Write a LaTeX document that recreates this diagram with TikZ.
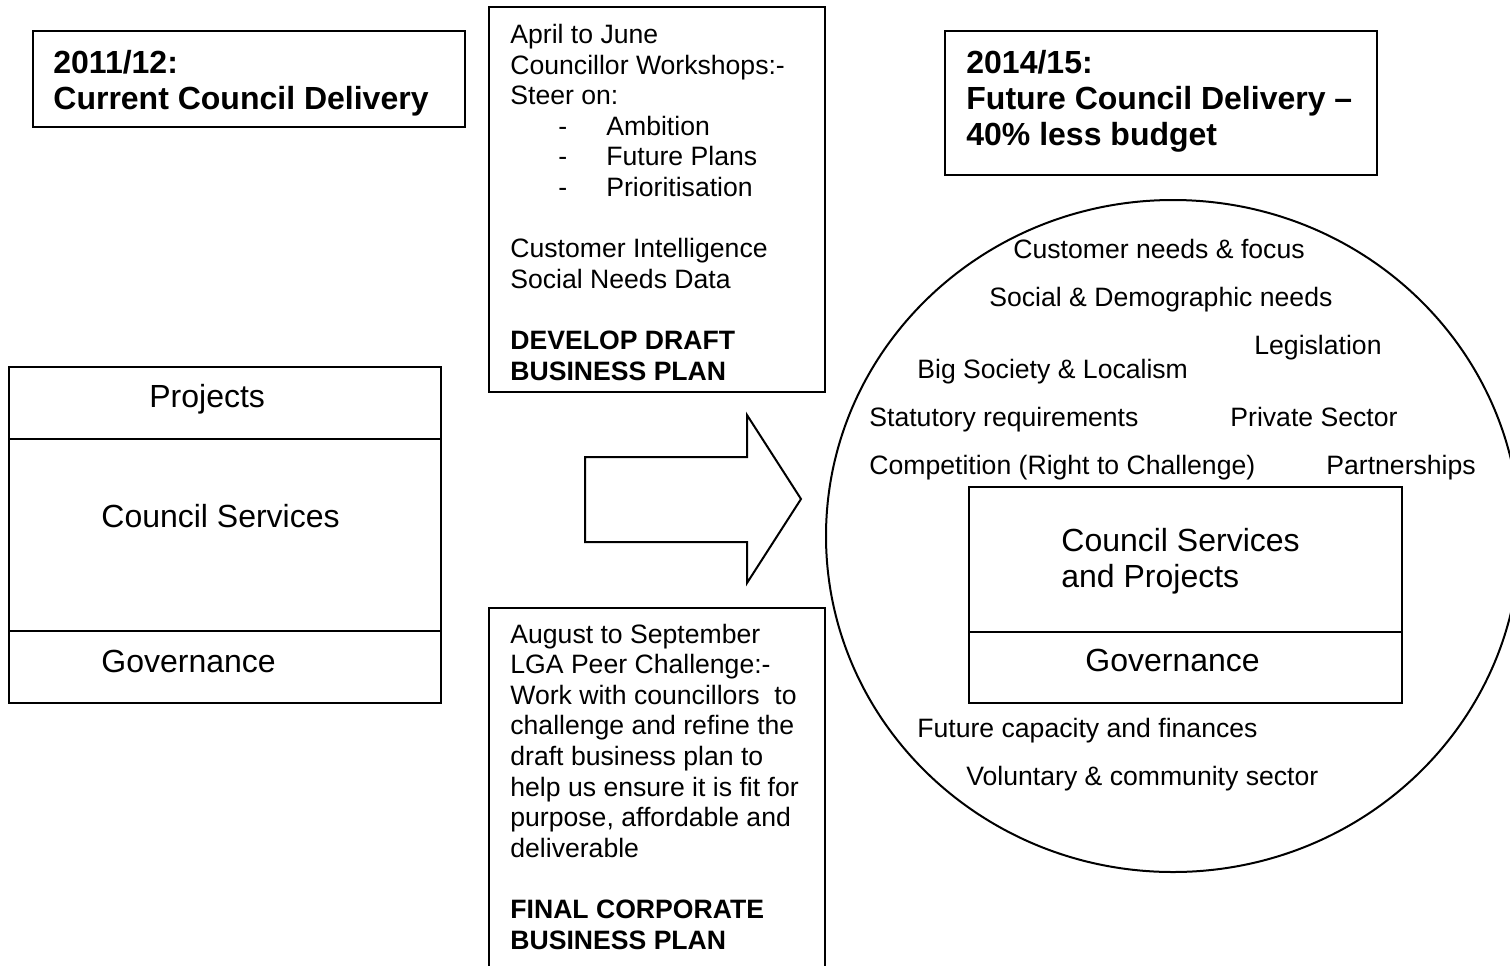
\documentclass[tikz,border=0pt]{standalone}
\usepackage{fontspec}
\setmainfont{Liberation Sans}
\newcommand{\BodySize}{\fontsize{13.3}{15.3}\selectfont}
\newcommand{\HeadSize}{\fontsize{16}{18}\selectfont}
\newcommand{\SteerItem}[1]{\makebox[48pt][l]{\hspace*{24pt}-}#1}

\begin{document}
\begin{tikzpicture}[x=0.5pt,y=-0.5pt,
  frame/.style={draw,line width=1pt},
  body/.style={anchor=base west,inner sep=0pt,align=left,font=\BodySize},
  head/.style={anchor=base west,inner sep=0pt,align=left,font=\HeadSize\bfseries},
  label/.style={anchor=base west,inner sep=0pt,font=\HeadSize},
  cloud/.style={anchor=base west,inner sep=0pt,font=\BodySize}]
\useasboundingbox (0,0) rectangle (1510,965);
\clip (0,0) rectangle (1510,965);

% now and then (multi-line nodes sit on their last baseline)
\draw[frame] (33,31) rectangle (465,127);
\node[head] (nowhead) at (53,109) {2011/12:\\Current Council Delivery};
\draw[frame] (945,31) rectangle (1377,175);
\node[head] (thenhead) at (966,145) {2014/15:\\Future Council Delivery --\\40\% less budget};

% current structure
\draw[frame] (9,367) rectangle (441,703);
\draw[frame] (9,439) -- (441,439);
\draw[frame] (9,631) -- (441,631);
\node[label] (nowproj) at (149,407) {Projects};
\node[label] (nowserv) at (101,527) {Council Services};
\node[label] (nowgov) at (101,672) {Governance};

% the two stages
\draw[frame] (489,7) rectangle (825,392);
\node[body] (workshop) at (510,380) {April to June\\
  Councillor Workshops:-\\
  Steer on:\\
  \SteerItem{Ambition}\\
  \SteerItem{Future Plans}\\
  \SteerItem{Prioritisation}\\[15.3pt]
  Customer Intelligence\\
  Social Needs Data\\[15.3pt]
  \textbf{DEVELOP DRAFT}\\
  \textbf{BUSINESS PLAN}};

\draw[frame] (489,980) -- (489,608) -- (825,608) -- (825,980);
\node[body] (challenge) at (510,949) {August to September\\
  LGA Peer Challenge:-\\
  Work with councillors\ \ to\\
  challenge and refine the\\
  draft business plan to\\
  help us ensure it is fit for\\
  purpose, affordable and\\
  deliverable\\[15.3pt]
  \textbf{FINAL CORPORATE}\\
  \textbf{BUSINESS PLAN}};

% block arrow
\draw[frame,line join=miter] (585,457) -- (747,457) -- (747,415) -- (801,499)
  -- (747,583) -- (747,542) -- (585,542) -- cycle;

% future structure and its drivers
\draw[line width=1pt] (1173,536) ellipse [x radius=347, y radius=336];
\node[cloud] (custneeds) at (1013,258) {Customer needs \& focus};
\node[cloud] (socneeds) at (989,306) {Social \& Demographic needs};
\node[cloud] (legis) at (1254,354) {Legislation};
\node[cloud] (bigsoc) at (917,378) {Big Society \& Localism};
\node[cloud] (statreq) at (869,426) {Statutory requirements};
\node[cloud] (private) at (1230,426) {Private Sector};
\node[cloud] (compet) at (869,474) {Competition (Right to Challenge)};
\node[cloud] (partner) at (1326,474) {Partnerships};
\node[cloud] (capacity) at (917,737) {Future capacity and finances};
\node[cloud] (voluntary) at (966,785) {Voluntary \& community sector};

\draw[frame] (969,487) rectangle (1402,703);
\draw[frame] (969,632) -- (1402,632);
\node[label,align=left] (thenserv) at (1061,587) {Council Services\\and Projects};
\node[label] (thengov) at (1085,671) {Governance};
\end{tikzpicture}
\end{document}
